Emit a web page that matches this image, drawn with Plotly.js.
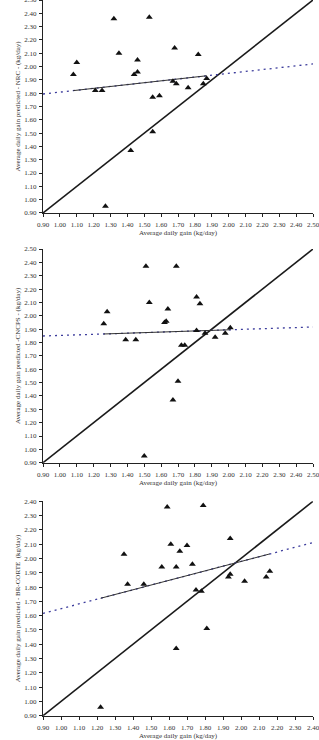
<!DOCTYPE html>
<html>
<head>
<meta charset="utf-8">
<script src="https://cdn.plot.ly/plotly-3.0.1.min.js"></script>
<style>
  html, body { margin: 0; padding: 0; background: #fff; }
  #chart { width: 319px; height: 740px; }
</style>
</head>
<body>
<div id="chart"></div>
<script>
// Observed average daily gain (kg/day) and model predictions
const nrcObserved = [1.08, 1.10, 1.21, 1.25, 1.27, 1.32, 1.35, 1.42, 1.44, 1.46, 1.46, 1.53, 1.55, 1.55, 1.59, 1.67, 1.68, 1.69, 1.76, 1.82, 1.85, 1.87];
const nrcPredicted = [1.94, 2.03, 1.82, 1.82, 0.95, 2.36, 2.10, 1.37, 1.94, 2.05, 1.96, 2.37, 1.77, 1.51, 1.78, 1.89, 2.14, 1.87, 1.84, 2.09, 1.87, 1.91];

const cncpsObserved = [1.26, 1.28, 1.39, 1.45, 1.51, 1.53, 1.50, 1.69, 1.64, 1.62, 1.63, 1.81, 1.83, 1.72, 1.74, 1.70, 1.67, 1.81, 1.86, 1.92, 1.98, 2.01];
const cncpsPredicted = [1.94, 2.03, 1.82, 1.82, 2.37, 2.10, 0.95, 2.37, 2.05, 1.95, 1.96, 2.14, 2.09, 1.78, 1.78, 1.51, 1.37, 1.89, 1.87, 1.84, 1.87, 1.91];

const brObserved = [1.22, 1.35, 1.37, 1.46, 1.56, 1.59, 1.79, 1.61, 1.70, 1.66, 1.64, 1.73, 1.94, 1.93, 1.94, 2.02, 2.14, 2.16, 1.75, 1.78, 1.81, 1.64];
const brPredicted = [0.96, 2.03, 1.82, 1.82, 1.94, 2.36, 2.37, 2.10, 2.09, 2.05, 1.94, 1.96, 2.14, 1.87, 1.89, 1.84, 1.87, 1.91, 1.78, 1.77, 1.51, 1.37];

// Fitted regression lines (intercept, slope) of predicted on observed
const nrcFit = [1.667, 0.141];
const cncpsFit = [1.811, 0.042];
const brFit = [1.319, 0.330];

// Axis extents
const xRangeTop = [0.9, 2.5];
const xRangeBottom = [0.9, 2.4];
const yRangeTop = [0.9, 2.5];
const yRangeBottom = [0.9, 2.4];

const yTitles = [
  "Average daily gain predicted - NRC - (kg/day)",
  "Average daily gain predicted -CNCPS - (kg/day)",
  "Average daily gain predicted - BR-CORTE  (kg/day)"
];
const xTitle = "Average daily gain (kg/day)";

const panels = [
  { obs: nrcObserved, pred: nrcPredicted, fit: nrcFit, xr: xRangeTop, yr: yRangeTop, yt: yTitles[0] },
  { obs: cncpsObserved, pred: cncpsPredicted, fit: cncpsFit, xr: xRangeTop, yr: yRangeTop, yt: yTitles[1] },
  { obs: brObserved, pred: brPredicted, fit: brFit, xr: xRangeBottom, yr: yRangeBottom, yt: yTitles[2] }
];

const yDomains = [[0.7122, 1.0], [0.3747, 0.6635], [0.0328, 0.3226]];
const xDomain = [0.1348, 0.9812];

const serif = "Liberation Serif, Times New Roman, serif";
const textFont = { family: serif, size: 7, color: "#333" };
const traces = [];
const layout = {
  width: 319, height: 740,
  margin: { l: 0, r: 0, t: 0, b: 0 },
  paper_bgcolor: "#fff", plot_bgcolor: "#fff",
  showlegend: false,
  font: textFont
};

const lineAt = (fit, x) => fit[0] + fit[1] * x;

panels.forEach((p, i) => {
  const n = i === 0 ? "" : String(i + 1);
  const xa = "x" + n, ya = "y" + n;

  // 1:1 reference line across the whole axis range
  traces.push({
    x: [p.xr[0], p.xr[1]], y: [p.xr[0], p.xr[1]],
    xaxis: xa, yaxis: ya, mode: "lines",
    line: { color: "#1a1a1a", width: 1.6 }, hoverinfo: "skip"
  });

  // regression extrapolated over the full axis (dotted)
  traces.push({
    x: [p.xr[0], p.xr[1]], y: [lineAt(p.fit, p.xr[0]), lineAt(p.fit, p.xr[1])],
    xaxis: xa, yaxis: ya, mode: "lines",
    line: { color: "#3c3c9c", width: 1.3, dash: "2px,4px" }, hoverinfo: "skip"
  });

  // regression within the observed range (solid)
  const xmin = Math.min(...p.obs), xmax = Math.max(...p.obs);
  traces.push({
    x: [xmin, xmax], y: [lineAt(p.fit, xmin), lineAt(p.fit, xmax)],
    xaxis: xa, yaxis: ya, mode: "lines",
    line: { color: "#333", width: 1 }, hoverinfo: "skip"
  });

  // observations
  traces.push({
    x: p.obs, y: p.pred, xaxis: xa, yaxis: ya, mode: "markers",
    marker: { symbol: "triangle-up", size: 6, color: "#111" }
  });

  const axCommon = {
    showgrid: false, zeroline: false, showline: true,
    linecolor: "#222", linewidth: 1,
    ticks: "outside", ticklen: 3, tickwidth: 1, tickcolor: "#222",
    dtick: 0.1, tick0: 0.9, tickformat: ".2f",
    ticklabeloverflow: "allow",
    tickfont: textFont
  };

  layout["xaxis" + n] = Object.assign({}, axCommon, {
    domain: xDomain, range: p.xr, anchor: ya,
    ticklabelstandoff: 2,
    title: { text: xTitle, font: textFont, standoff: 1 }
  });
  layout["yaxis" + n] = Object.assign({}, axCommon, {
    domain: yDomains[i], range: p.yr, anchor: xa,
    ticklabelstandoff: 1,
    title: { text: p.yt, font: textFont, standoff: 2 }
  });
});

Plotly.newPlot("chart", traces, layout, { displayModeBar: false, staticPlot: true });
</script>
</body>
</html>
